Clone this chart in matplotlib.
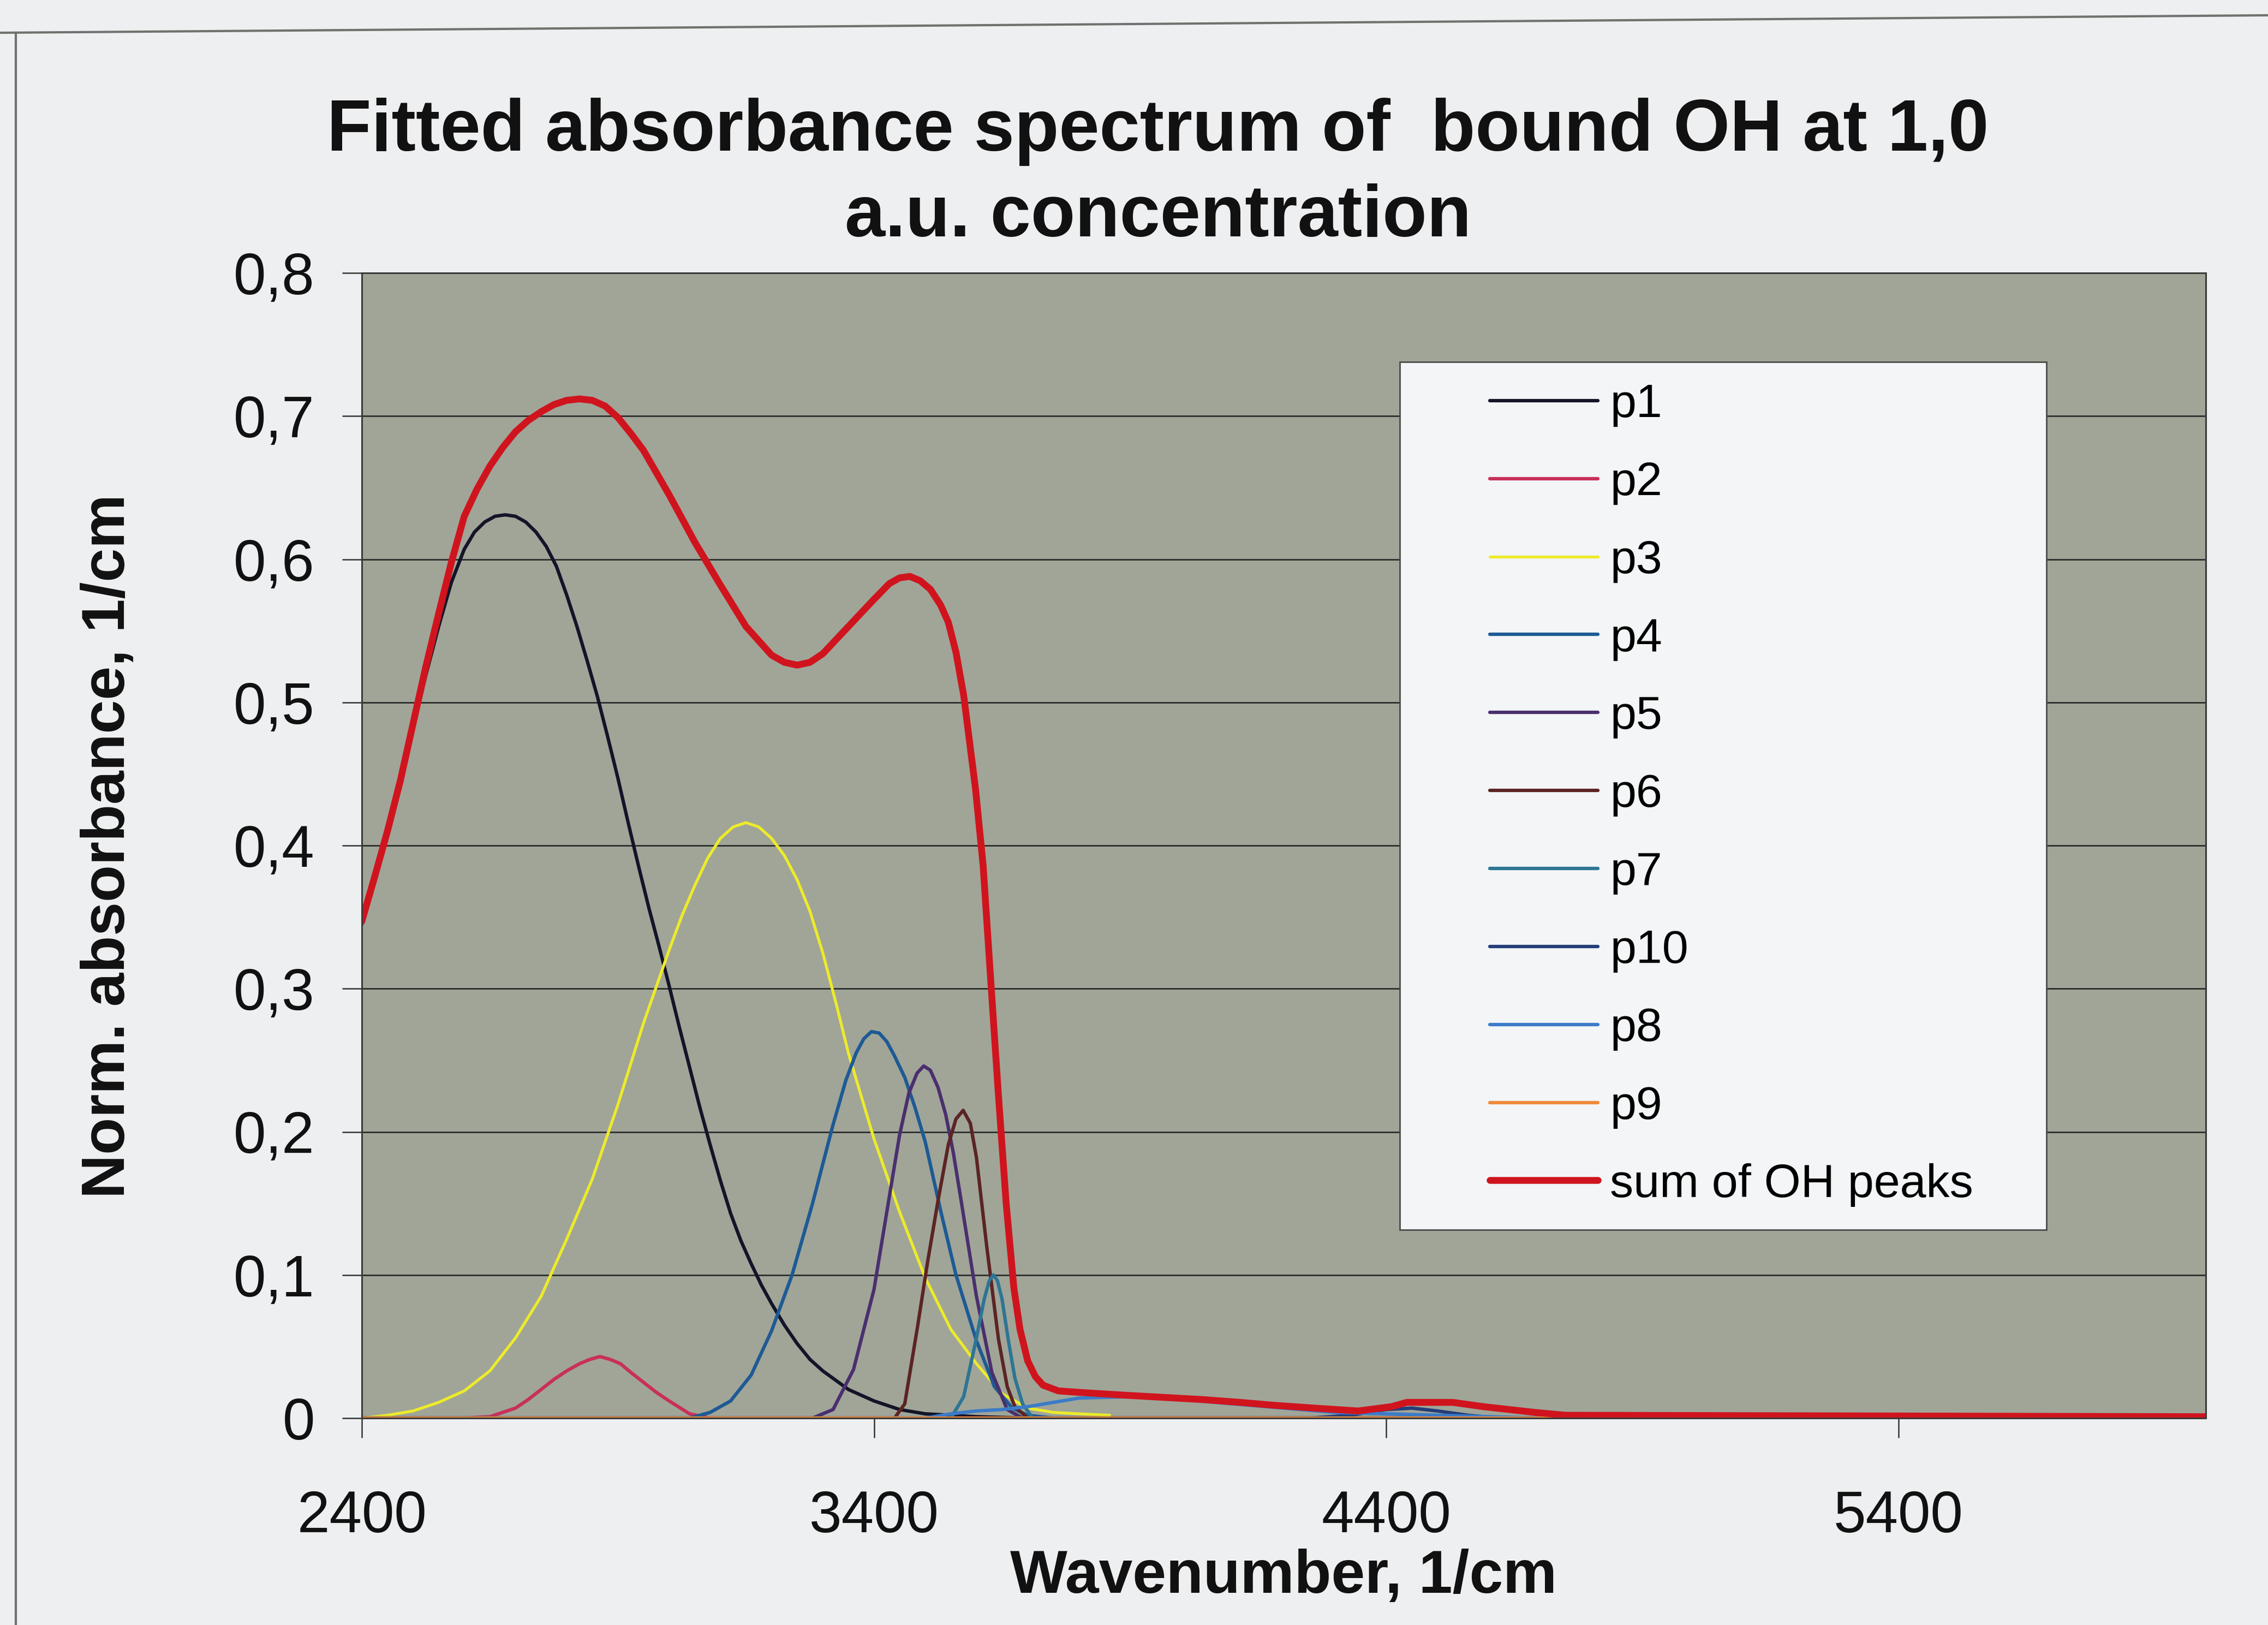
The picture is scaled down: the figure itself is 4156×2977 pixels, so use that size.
import matplotlib
matplotlib.use('Agg')
import matplotlib.pyplot as plt
from matplotlib.patches import Rectangle
from matplotlib.lines import Line2D

# ---------------- data ----------------
title = "Fitted absorbance spectrum of  bound OH at 1,0\na.u. concentration"
x_label = "Wavenumber, 1/cm"
y_label = "Norm. absorbance, 1/cm"
x_ticks = [2400, 3400, 4400, 5400]
x_tick_labels = ["2400", "3400", "4400", "5400"]
y_ticks = [0, 0.1, 0.2, 0.3, 0.4, 0.5, 0.6, 0.7, 0.8]
y_tick_labels = ["0", "0,1", "0,2", "0,3", "0,4", "0,5", "0,6", "0,7", "0,8"]

p1_x = [2400, 2425, 2450, 2475, 2500, 2525, 2550, 2575, 2600, 2620, 2640, 2660, 2680,
        2700, 2720, 2740, 2760, 2780, 2800, 2820, 2840, 2860, 2880, 2900, 2920, 2940,
        2960, 2980, 3000, 3020, 3040, 3060, 3080, 3100, 3120, 3140, 3160, 3180, 3200,
        3225, 3250, 3275, 3300, 3350, 3400, 3450, 3500, 3600, 3700, 6000]
p1_y = [0.345, 0.378, 0.412, 0.447, 0.482, 0.519, 0.553, 0.584, 0.607, 0.619, 0.626,
        0.630, 0.631, 0.630, 0.626, 0.619, 0.609, 0.595, 0.575, 0.553, 0.529, 0.504,
        0.476, 0.447, 0.416, 0.386, 0.357, 0.330, 0.302, 0.273, 0.245, 0.217, 0.191,
        0.166, 0.143, 0.124, 0.108, 0.093, 0.080, 0.065, 0.052, 0.041, 0.033, 0.020,
        0.012, 0.006, 0.003, 0.001, 0.0, 0.0]

p2_x = [2400, 2600, 2650, 2700, 2725, 2750, 2775, 2800, 2825, 2845, 2865, 2885, 2905,
        2925, 2950, 2975, 3000, 3040, 3080, 6000]
p2_y = [0.0, 0.0, 0.001, 0.007, 0.013, 0.020, 0.027, 0.033, 0.038, 0.041, 0.043, 0.041,
        0.038, 0.032, 0.025, 0.018, 0.012, 0.003, 0.0, 0.0]

p3_x = [2400, 2450, 2500, 2550, 2600, 2650, 2700, 2750, 2800, 2850, 2900, 2950, 3000,
        3025, 3050, 3075, 3100, 3125, 3150, 3175, 3200, 3225, 3250, 3275, 3300, 3325,
        3350, 3400, 3450, 3500, 3550, 3600, 3650, 3700, 3750, 3800, 3860]
p3_y = [0.000, 0.002, 0.005, 0.011, 0.019, 0.033, 0.056, 0.085, 0.125, 0.167, 0.219,
        0.276, 0.327, 0.351, 0.372, 0.391, 0.405, 0.413, 0.416, 0.413, 0.405, 0.393,
        0.376, 0.354, 0.325, 0.291, 0.255, 0.195, 0.144, 0.098, 0.062, 0.038, 0.017,
        0.007, 0.004, 0.003, 0.002]

p4_x = [2400, 3040, 3080, 3120, 3160, 3200, 3240, 3280, 3320, 3345, 3365, 3380, 3395,
        3410, 3425, 3440, 3460, 3480, 3500, 3530, 3560, 3600, 3635, 3670, 3700, 3750,
        6000]
p4_y = [0.0, 0.0, 0.004, 0.012, 0.030, 0.061, 0.100, 0.150, 0.205, 0.236, 0.255, 0.265,
        0.270, 0.269, 0.263, 0.253, 0.238, 0.217, 0.193, 0.145, 0.100, 0.054, 0.022,
        0.007, 0.002, 0.0, 0.0]

p5_x = [2400, 3280, 3320, 3360, 3400, 3430, 3450, 3468, 3484, 3497, 3510, 3525, 3540,
        3555, 3570, 3600, 3630, 3660, 3690, 6000]
p5_y = [0.0, 0.0, 0.006, 0.034, 0.090, 0.155, 0.198, 0.227, 0.241, 0.246, 0.243, 0.231,
        0.212, 0.185, 0.152, 0.085, 0.032, 0.006, 0.0, 0.0]

p6_x = [2400, 3440, 3460, 3485, 3505, 3525, 3545, 3560, 3574, 3588, 3600, 3620, 3643,
        3660, 3675, 3700, 6000]
p6_y = [0.0, 0.0, 0.010, 0.064, 0.110, 0.152, 0.191, 0.209, 0.215, 0.206, 0.182, 0.120,
        0.055, 0.022, 0.008, 0.0, 0.0]

p7_x = [2400, 3550, 3575, 3600, 3615, 3625, 3633, 3641, 3650, 3662, 3675, 3690, 3710,
        6000]
p7_y = [0.0, 0.0, 0.015, 0.056, 0.083, 0.096, 0.100, 0.096, 0.083, 0.055, 0.028, 0.010,
        0.0, 0.0]

p10_x = [2400, 4250, 4330, 4400, 4450, 4500, 4560, 4620, 6000]
p10_y = [0.0, 0.0, 0.002, 0.006, 0.007, 0.005, 0.002, 0.0, 0.0]

p8_x = [2400, 3500, 3550, 3600, 3650, 3700, 3750, 3800, 3900, 4000, 4100, 4200, 4300,
        4400, 4500, 4600, 4700, 6000]
p8_y = [0.0, 0.0, 0.003, 0.005, 0.006, 0.008, 0.011, 0.014, 0.015, 0.013, 0.010, 0.007,
        0.004, 0.003, 0.002, 0.001, 0.0, 0.0]

p9_x = [2400, 6000]
p9_y = [0.0, 0.0]

sum_x = [2400, 2425, 2450, 2475, 2500, 2525, 2550, 2575, 2600, 2625, 2650, 2675, 2700,
         2725, 2750, 2775, 2800, 2825, 2850, 2875, 2900, 2925, 2950, 3000, 3050, 3100,
         3150, 3200, 3225, 3250, 3275, 3300, 3350, 3400, 3430, 3450, 3470, 3490, 3510,
         3530, 3545, 3560, 3575, 3598, 3613, 3628, 3643, 3658, 3673, 3685, 3700, 3715,
         3730, 3760, 3800, 3890, 4040, 4115, 4180, 4260, 4345, 4410, 4440, 4530, 4590,
         4690, 4750, 6000]
sum_y = [0.347, 0.378, 0.410, 0.445, 0.485, 0.525, 0.562, 0.598, 0.630, 0.649, 0.665,
         0.678, 0.689, 0.697, 0.703, 0.708, 0.711, 0.712, 0.711, 0.707, 0.699, 0.688,
         0.676, 0.645, 0.612, 0.582, 0.553, 0.533, 0.528, 0.526, 0.528, 0.534, 0.553,
         0.572, 0.583, 0.587, 0.588, 0.585, 0.579, 0.568, 0.556, 0.535, 0.505, 0.440,
         0.386, 0.305, 0.225, 0.150, 0.091, 0.062, 0.040, 0.029, 0.023, 0.019, 0.018,
         0.016, 0.013, 0.011, 0.009, 0.007, 0.005, 0.008, 0.011, 0.011, 0.008, 0.004,
         0.002, 0.001]

series_labels = ["p1", "p2", "p3", "p4", "p5", "p6", "p7", "p10", "p8", "p9", "sum of OH peaks"]
series_colors = ["#141428", "#C8305A", "#EDEB2A", "#1E5A94", "#4A2F6E", "#5C2424",
                 "#2D7595", "#243E7A", "#3B7BC8", "#F08A3A", "#D0141E"]

# ---------------- figure ----------------
W, H = 4156, 2977
plt.rcParams['font.family'] = ['Liberation Sans', 'DejaVu Sans']
fig = plt.figure(figsize=(W / 100, H / 100), dpi=100)
fig.patch.set_facecolor('#EDEFF1')

ax_left, ax_right, ax_top, ax_bottom = 663, 4042, 500, 2598
ax = fig.add_axes([ax_left / W, 1 - ax_bottom / H, (ax_right - ax_left) / W,
                   (ax_bottom - ax_top) / H])
ax.set_facecolor('#A0A598')
ax.set_xlim(2400, 6000)
ax.set_ylim(0, 0.8)
ax.set_xticks(x_ticks)
ax.set_xticklabels(x_tick_labels)
ax.set_yticks(y_ticks)
ax.set_yticklabels(y_tick_labels)
ax.grid(axis='y', color='#2C2C2C', linewidth=2.0)
ax.set_axisbelow(True)
for s in ax.spines.values():
    s.set_color('#3A3A3A')
    s.set_linewidth(2.2)
ax.tick_params(axis='both', direction='out', length=26, width=1.8, color='#333333',
               labelsize=77, labelcolor='#111111')
ax.tick_params(axis='x', pad=68)
ax.tick_params(axis='y', pad=36)

series = [(p1_x, p1_y), (p2_x, p2_y), (p3_x, p3_y), (p4_x, p4_y), (p5_x, p5_y),
          (p6_x, p6_y), (p7_x, p7_y), (p10_x, p10_y), (p8_x, p8_y), (p9_x, p9_y),
          (sum_x, sum_y)]
handles = []
for (xs, ys), lab, col in zip(series, series_labels, series_colors):
    lw = 9.0 if lab.startswith('sum') else (3.8 if lab == 'p3' else 4.5)
    ln, = ax.plot(xs, ys, color=col, linewidth=lw, label=lab,
                  solid_joinstyle='round', solid_capstyle='round')
    handles.append(ln)

# title and axis labels
fig.text(2122 / W, 1 - 320 / H, title, ha='center', va='center', fontsize=96,
         fontweight='bold', linespacing=1.32, color='#111111')
fig.text(2352 / W, 1 - 2889 / H, x_label, ha='center', va='center', fontsize=80,
         fontweight='bold', color='#111111')
fig.text(199 / W, 1 - 1550 / H, y_label, ha='center', va='center', rotation=90,
         fontsize=80, fontweight='bold', color='#111111')

# legend box
fig.add_artist(Rectangle((2565 / W, 1 - 2253 / H), (3750 - 2565) / W, (2253 - 663) / H,
                         transform=fig.transFigure, facecolor='#F3F5F6',
                         edgecolor='#4A4A4A', linewidth=2.0, zorder=3))
leg = fig.legend(handles, series_labels, loc='upper left',
                 bbox_to_anchor=(2730 / W, 1 - 702 / H), bbox_transform=fig.transFigure,
                 frameon=False, fontsize=62, handlelength=2.3, handletextpad=0.26,
                 labelspacing=0.73, borderpad=0, borderaxespad=0)
leg.set_zorder(4)

# scanned chart-area border
fig.add_artist(Line2D([0, 1], [1 - 60 / H, 1 - 28 / H], transform=fig.transFigure,
                      color='#6E736E', linewidth=3))
fig.add_artist(Line2D([29 / W, 29 / W], [0, 1 - 60 / H], transform=fig.transFigure,
                      color='#6E736E', linewidth=3))

fig.savefig('out.png', dpi=100, facecolor=fig.get_facecolor())
